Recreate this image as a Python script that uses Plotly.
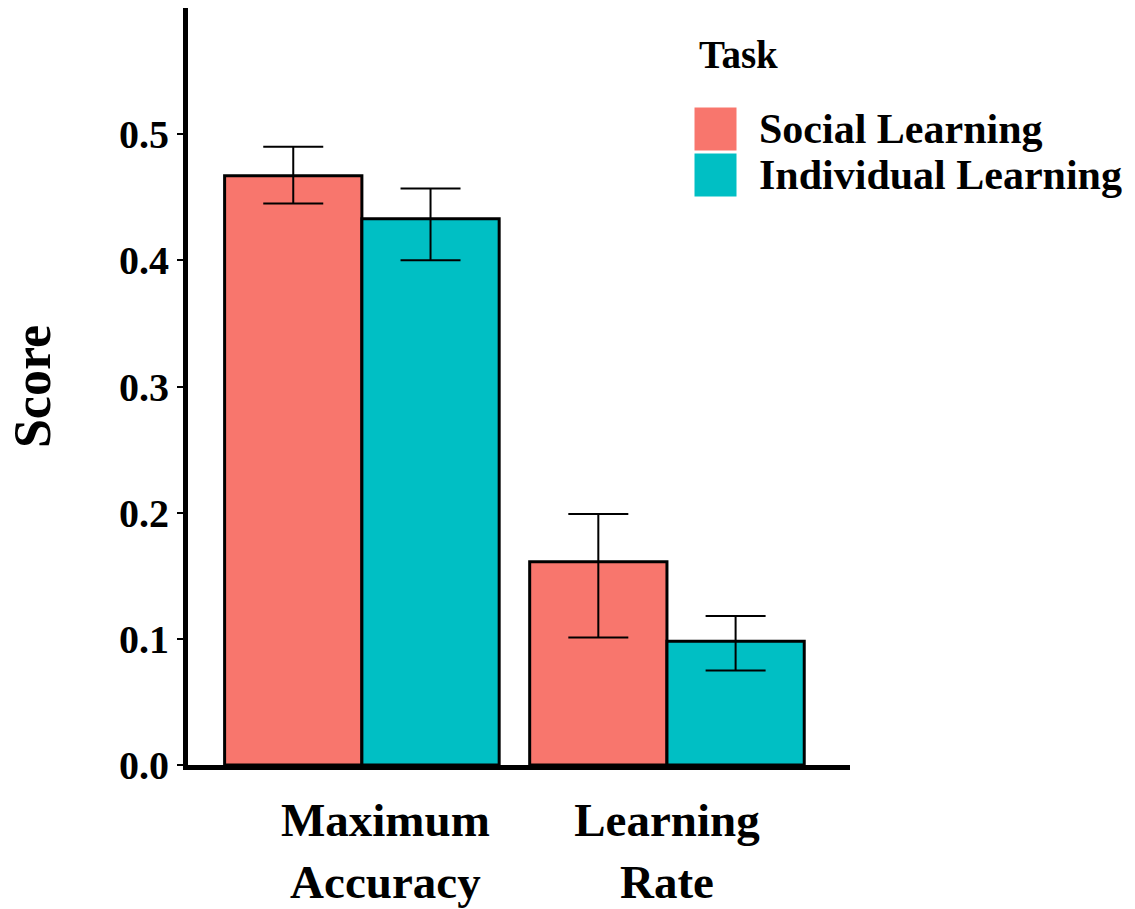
import plotly.graph_objects as go

# Bar chart of mean scores by measure and task, with error bars
categories = ["Maximum Accuracy", "Learning Rate"]
NBSP = "\u00a0"
tick_labels = [NBSP * 4 + "Maximum<br>" + NBSP * 4 + "Accuracy", "Learning<br>Rate"]

tasks = ["Social Learning", "Individual Learning"]
colors = ["#F8766D", "#00BFC4"]

social_mean = [0.467, 0.161]
social_low = [0.445, 0.101]
social_high = [0.490, 0.199]

individual_mean = [0.433, 0.098]
individual_low = [0.400, 0.075]
individual_high = [0.457, 0.118]

y_ticks = [0.0, 0.1, 0.2, 0.3, 0.4, 0.5]

FONT = "Liberation Serif"

series = [
    (tasks[0], colors[0], social_mean, social_low, social_high),
    (tasks[1], colors[1], individual_mean, individual_low, individual_high),
]

fig = go.Figure()
for name, color, mean, low, high in series:
    fig.add_trace(go.Bar(
        name=name,
        x=categories,
        y=mean,
        marker=dict(color=color, line=dict(color="black", width=3)),
        error_y=dict(
            type="data",
            symmetric=False,
            array=[h - m for h, m in zip(high, mean)],
            arrayminus=[m - l for m, l in zip(mean, low)],
            color="black",
            thickness=2,
            width=30,
        ),
        showlegend=False,
    ))

fig.update_layout(
    width=1135,
    height=909,
    margin=dict(l=188, r=285, t=8, b=144),
    paper_bgcolor="white",
    plot_bgcolor="white",
    barmode="group",
    bargap=0.1,
    bargroupgap=0,
    font=dict(family=FONT, color="black"),
)

fig.update_xaxes(
    range=[-0.57, 1.6],
    tickmode="array",
    tickvals=categories,
    ticktext=tick_labels,
    tickfont=dict(family=FONT, size=47, weight="bold", color="black"),
    showline=True,
    linecolor="black",
    linewidth=5,
    ticks="",
    showgrid=False,
    zeroline=False,
    ticklabelstandoff=10,
    automargin=False,
)

fig.update_yaxes(
    range=[0, 0.6],
    tickmode="array",
    tickvals=y_ticks,
    ticktext=[f"{v:.1f}" for v in y_ticks],
    tickfont=dict(family=FONT, size=40, weight="bold", color="black"),
    showline=True,
    linecolor="black",
    linewidth=5,
    ticks="outside",
    ticklen=6,
    tickwidth=2,
    tickcolor="black",
    showgrid=False,
    zeroline=False,
    automargin=False,
    title=dict(text="Score", font=dict(family=FONT, size=52, weight="bold", color="black"), standoff=53),
)

# Legend: title, colour keys and labels placed to the right of the panel
fig.add_annotation(
    text="Task", xref="paper", yref="paper",
    x=(697 - 188) / 662, y=(765 - 55) / 757,
    xanchor="left", yanchor="middle", showarrow=False,
    font=dict(family=FONT, size=39, weight="bold", color="black"),
)
key_top = [107, 153]
for i, (name, color) in enumerate(zip(tasks, colors)):
    top = key_top[i]
    fig.add_shape(
        type="rect", xref="paper", yref="paper",
        x0=(694 - 188) / 662, x1=(737 - 188) / 662,
        y0=(765 - top - 44) / 757, y1=(765 - top) / 757,
        fillcolor=color, line=dict(color="white", width=1),
    )
    fig.add_annotation(
        text=name, xref="paper", yref="paper",
        x=(757 - 188) / 662, y=(765 - top - 22) / 757,
        xanchor="left", yanchor="middle", showarrow=False,
        font=dict(family=FONT, size=42, weight="bold", color="black"),
    )

fig.write_html("out.html")
